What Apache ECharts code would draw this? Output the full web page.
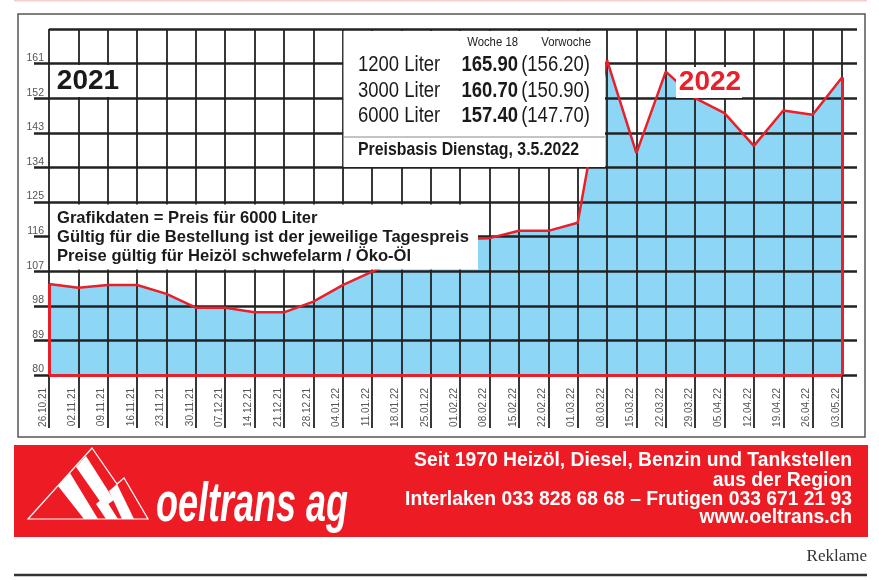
<!DOCTYPE html>
<html>
<head>
<meta charset="utf-8">
<script src="https://cdn.jsdelivr.net/npm/echarts@6/dist/echarts.min.js"></script>
<style>
html,body{margin:0;padding:0;background:#fff;}
#chart{width:879px;height:580px;}
</style>
</head>
<body>
<div id="chart"></div>
<script>
// ---- data ----
const categories = ['26.10.21','02.11.21','09.11.21','16.11.21','23.11.21','30.11.21','07.12.21','14.12.21','21.12.21','28.12.21','04.01.22','11.01.22','18.01.22','25.01.22','01.02.22','08.02.22','15.02.22','22.02.22','01.03.22','08.03.22','15.03.22','22.03.22','29.03.22','05.04.22','12.04.22','19.04.22','26.04.22','03.05.22'];
const prices = [103.7,102.7,103.4,103.4,101.1,97.5,97.5,96.3,96.3,99.1,103.4,106.9,110.3,113.2,115.4,115.6,117.5,117.5,119.6,161.9,137.7,158.9,152.0,148.1,139.6,148.8,147.7,157.4];
const yMin = 80, yMax = 170, yStep = 9;
const volumes = ['1200 Liter','3000 Liter','6000 Liter'];
const week18 = ['165.90','160.70','157.40'];
const prevWeek = ['(156.20)','(150.90)','(147.70)'];
const notes = ['Grafikdaten = Preis für 6000 Liter','Gültig für die Bestellung ist der jeweilige Tagespreis','Preise gültig für Heizöl schwefelarm / Öko-Öl'];
const bannerLines = ['Seit 1970 Heizöl, Diesel, Benzin und Tankstellen','aus der Region','Interlaken 033 828 68 68 – Frutigen 033 671 21 93','www.oeltrans.ch'];

const RED = '#e8202a';
const GRID = '#222';
const SANS = "'Liberation Sans',Arial,sans-serif";
const COND = 0.84; // horizontal squeeze to imitate a condensed face

const chart = echarts.init(document.getElementById('chart'), null, {renderer:'canvas'});

const last = categories.length - 1;
const graphics = [];
// outer frame
graphics.push({type:'line', shape:{x1:14,y1:0.5,x2:867,y2:0.5}, style:{stroke:'#f3cfd1',lineWidth:2}, z:100});
graphics.push({type:'rect', shape:{x:18,y:14,width:847,height:423}, style:{fill:null,stroke:'#555',lineWidth:1.5}, z:100});
// 2021 box
graphics.push({type:'rect', shape:{x:55,y:65,width:69,height:32}, style:{fill:'#fff'}, z:100});
graphics.push({type:'text', x:88, y:81, style:{text:'2021', font:"bold 28px "+SANS, fill:'#1a1a1a', align:'center', verticalAlign:'middle'}, z:101});
// 2022 box
graphics.push({type:'rect', shape:{x:676,y:67,width:66,height:31}, style:{fill:'#fff'}, z:100});
graphics.push({type:'text', x:710, y:82, style:{text:'2022', font:"bold 28px "+SANS, fill:RED, align:'center', verticalAlign:'middle'}, z:101});
// info box
graphics.push({type:'rect', shape:{x:343.5,y:31,width:261.5,height:136}, style:{fill:'#fff'}, z:100});
graphics.push({type:'line', shape:{x1:343,y1:137,x2:605,y2:137}, style:{stroke:'#888',lineWidth:1}, z:101});
graphics.push({type:'text', x:518, y:42, scaleX:COND, style:{text:'Woche 18', font:"13.5px "+SANS, fill:'#222', align:'right', verticalAlign:'middle'}, z:101});
graphics.push({type:'text', x:591, y:42, scaleX:COND, style:{text:'Vorwoche', font:"13.5px "+SANS, fill:'#222', align:'right', verticalAlign:'middle'}, z:101});
const rowY = [65, 90.5, 116];
volumes.forEach((v,i)=>{
  graphics.push({type:'text', x:358, y:rowY[i], scaleX:COND, style:{text:v, font:"22px "+SANS, fill:'#1a1a1a', align:'left', verticalAlign:'middle'}, z:101});
  graphics.push({type:'text', x:518, y:rowY[i], scaleX:COND, style:{text:week18[i], font:"bold 22px "+SANS, fill:'#1a1a1a', align:'right', verticalAlign:'middle'}, z:101});
  graphics.push({type:'text', x:590, y:rowY[i], scaleX:COND, style:{text:prevWeek[i], font:"22px "+SANS, fill:'#1a1a1a', align:'right', verticalAlign:'middle'}, z:101});
});
graphics.push({type:'text', x:358, y:150, scaleX:0.88, style:{text:'Preisbasis Dienstag, 3.5.2022', font:"bold 18px "+SANS, fill:'#1a1a1a', align:'left', verticalAlign:'middle'}, z:101});
// notes box
graphics.push({type:'rect', shape:{x:50,y:204.5,width:428,height:65}, style:{fill:'#fff'}, z:100});
notes.forEach((t,i)=>{
  graphics.push({type:'text', x:57, y:218+i*19, style:{text:t, font:"bold 16.6px "+SANS, fill:'#1a1a1a', align:'left', verticalAlign:'middle'}, z:101});
});
// banner
graphics.push({type:'rect', shape:{x:14,y:445,width:854,height:92}, style:{fill:'#ed1c24'}, z:100});
bannerLines.forEach((t,i)=>{
  graphics.push({type:'text', x:852, y:[461,480.5,499.5,518][i], style:{text:t, font:"bold 19.3px "+SANS, fill:'#fff', align:'right', verticalAlign:'middle'}, z:101});
});
// logo
graphics.push({type:'polygon', shape:{points:[[28,519],[92,448],[117,484],[124,478],[148,519]]}, style:{fill:null, stroke:'#fff', lineWidth:1.2}, z:101});
graphics.push({type:'polygon', shape:{points:[[58,486],[70,473],[98,519],[84,519]]}, style:{fill:'#fff'}, z:101});
graphics.push({type:'polygon', shape:{points:[[76,467],[86,456],[114,500],[104,507]]}, style:{fill:'#fff'}, z:101});
graphics.push({type:'polygon', shape:{points:[[96,504],[104,497],[118,519],[106,519]]}, style:{fill:'#fff'}, z:101});
graphics.push({type:'polygon', shape:{points:[[109,491],[117,484],[134,519],[122,519]]}, style:{fill:'#fff'}, z:101});
graphics.push({type:'text', x:156, y:534, scaleY:1.55, style:{text:'oeltrans ag', font:"italic bold 36px "+SANS, fill:'#fff', align:'left', verticalAlign:'bottom'}, z:101});
// Reklame + rule
graphics.push({type:'text', x:867, y:557, style:{text:'Reklame', font:"17px 'Liberation Serif','DejaVu Serif',serif", fill:'#333', align:'right', verticalAlign:'middle'}, z:101});
graphics.push({type:'line', shape:{x1:14,y1:575,x2:867,y2:575}, style:{stroke:'#333',lineWidth:2.5}, z:100});

const option = {
  animation:false,
  backgroundColor:'#fff',
  grid:{left:49, right:37, top:29, bottom:205, containLabel:false},
  xAxis:{
    type:'category', data:categories, boundaryGap:false, z:3,
    axisLine:{show:false},
    axisTick:{show:true, interval:0, length:53, lineStyle:{color:GRID, width:1.8}},
    splitLine:{show:true, interval:0, lineStyle:{color:GRID, width:1.8}},
    axisLabel:{interval:0, rotate:90, margin:13, fontSize:10, color:'#555', fontFamily:SANS, verticalAlign:'bottom', padding:[0,0,1,0]}
  },
  yAxis:[{
    type:'value', min:yMin, max:yMax, interval:yStep, z:3,
    axisLine:{show:false},
    axisTick:{show:true, length:15, lineStyle:{color:GRID, width:2.5}},
    splitLine:{show:true, lineStyle:{color:GRID, width:2.5}},
    axisLabel:{showMaxLabel:false, margin:5, fontSize:10.5, color:'#555', fontFamily:SANS, verticalAlign:'bottom', align:'right'}
  },{
    type:'value', min:yMin, max:yMax, interval:yStep, position:'right', z:3,
    axisLine:{show:false},
    axisTick:{show:true, length:15, lineStyle:{color:GRID, width:2.5}},
    splitLine:{show:false}, axisLabel:{show:false}
  }],
  series:[{
    type:'line', data:prices, symbol:'none', z:1, silent:true,
    lineStyle:{width:0}, areaStyle:{color:'#8ed6f6', opacity:1}
  },{
    type:'line', data:prices, symbol:'none', z:5, silent:true,
    lineStyle:{color:RED, width:2.5},
    markLine:{silent:true, symbol:'none', label:{show:false},
      lineStyle:{color:RED, width:3, type:'solid'},
      data:[
        [{coord:[categories[0], yMin]},{coord:[categories[0], prices[0]]}],
        [{coord:[categories[0], yMin]},{coord:[categories[last], yMin]}],
        [{coord:[categories[last], yMin]},{coord:[categories[last], prices[last]]}]
      ]}
  }],
  graphic:{elements:graphics}
};
chart.setOption(option);
</script>
</body>
</html>
